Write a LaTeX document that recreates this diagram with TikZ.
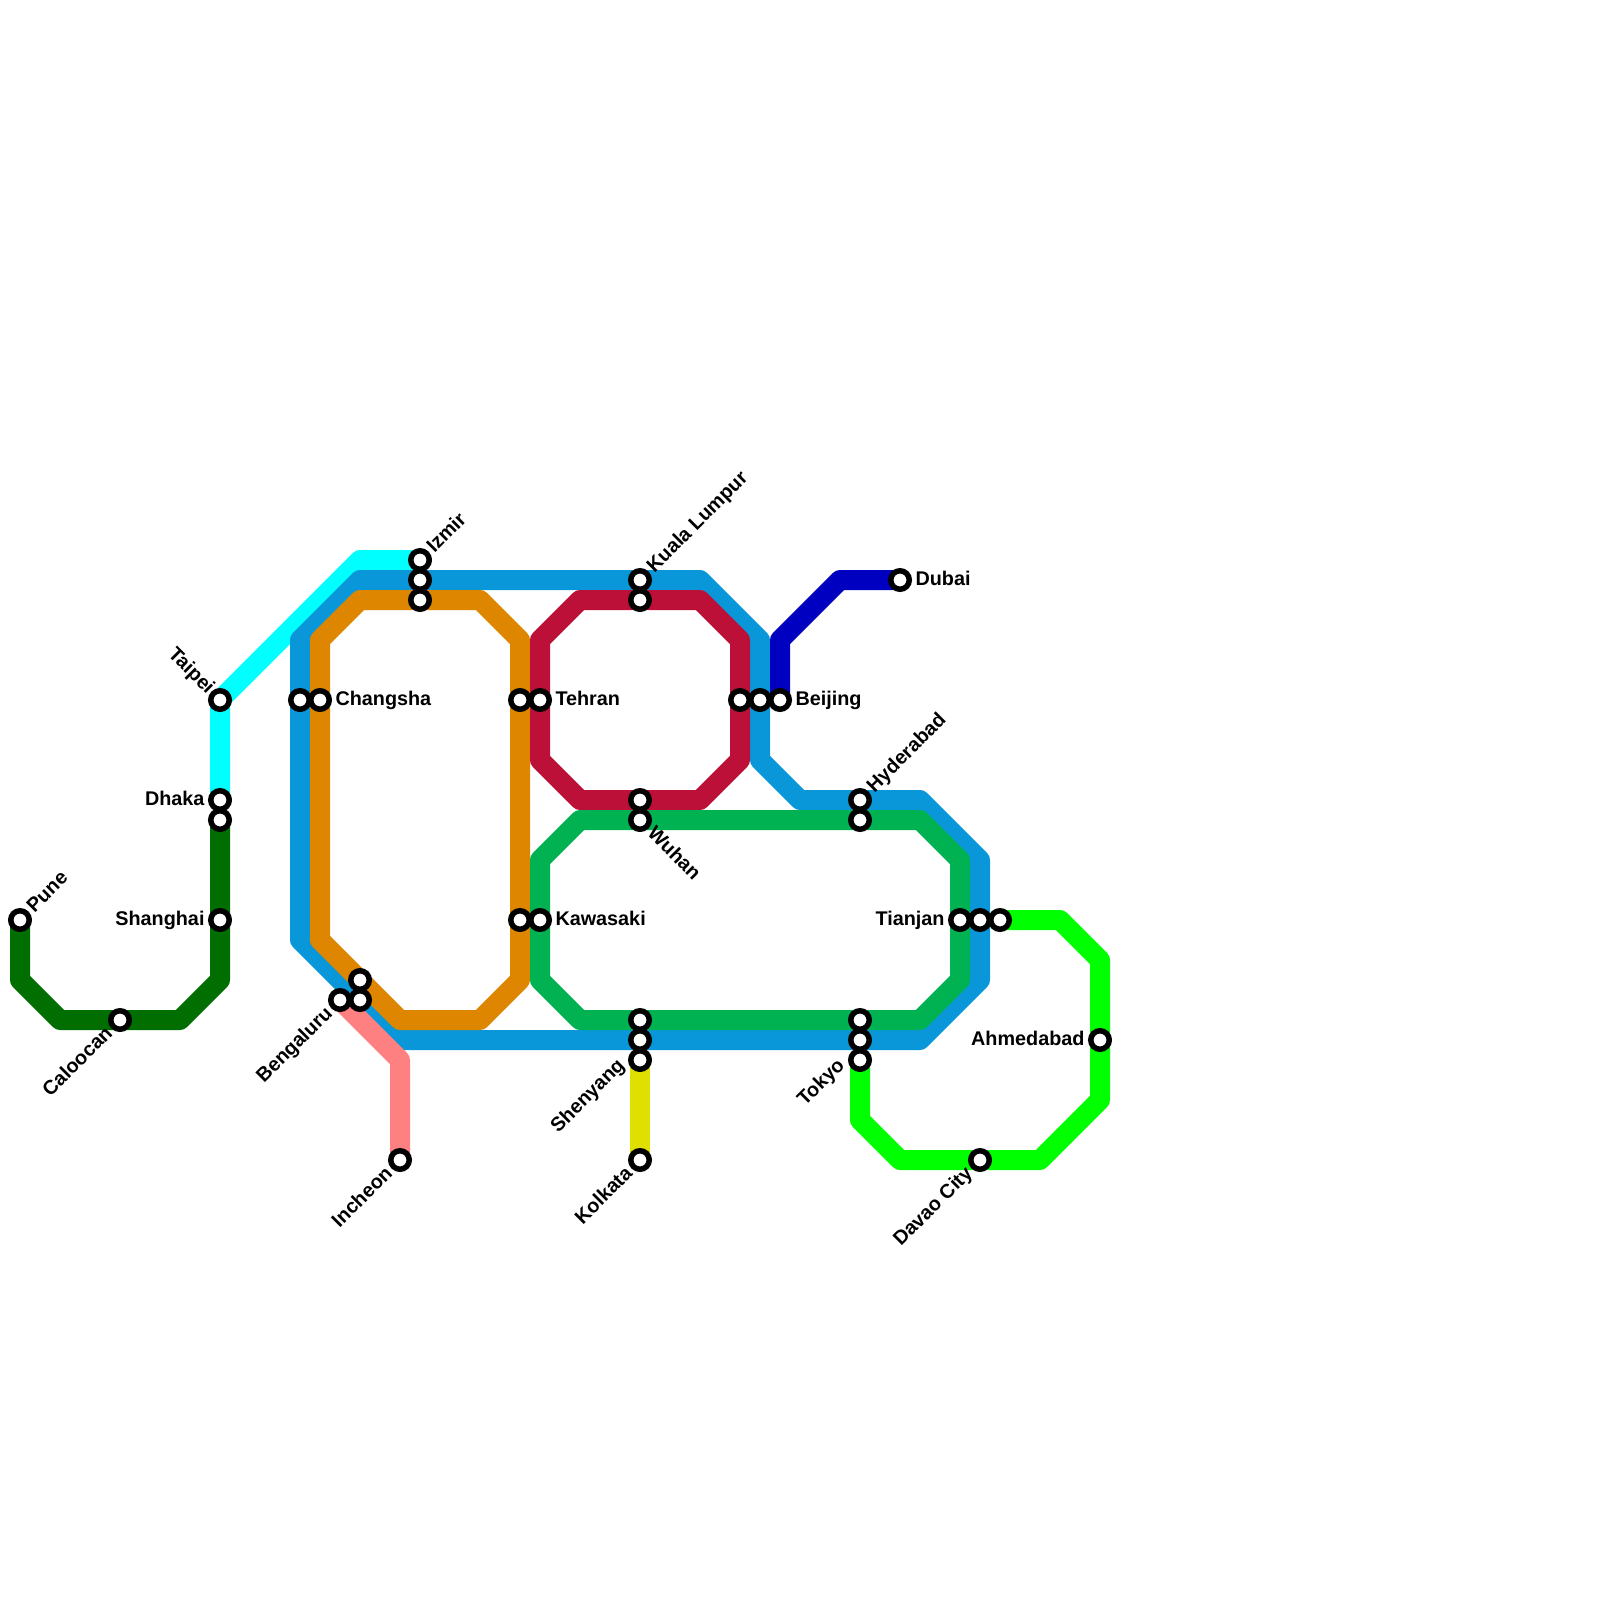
\documentclass[tikz,border=0pt]{standalone}
\usepackage{fontspec}
\setmainfont{Liberation Sans}
\usetikzlibrary{backgrounds}
\definecolor{cCyan}{HTML}{00FFFF}
\definecolor{cBlue}{HTML}{0A97D9}
\definecolor{cOrange}{HTML}{DF8600}
\definecolor{cRed}{HTML}{BD1038}
\definecolor{cGreen}{HTML}{00B251}
\definecolor{cDark}{HTML}{006E00}
\definecolor{cNavy}{HTML}{0000C0}
\definecolor{cPink}{HTML}{FF8080}
\definecolor{cYellow}{HTML}{E0E000}
\definecolor{cLime}{HTML}{00FF00}
\tikzset{
  stn/.style={circle,draw=black,fill=white,line width=5.5pt,minimum size=18.5pt,inner sep=0pt,outer sep=0pt},
  rail/.style={line width=20pt,line join=round,line cap=round},
  lbl/.style={font=\fontsize{19.8}{22}\bfseries\selectfont,text=black,inner sep=0pt,outer ysep=0pt},
  lblE/.style={lbl,anchor=mid west,outer xsep=15.5pt,yshift=-3pt},
  lblW/.style={lbl,anchor=mid east,outer xsep=15.5pt,yshift=-3pt},
  lblNE/.style={lbl,rotate=45,anchor=mid west,outer xsep=15pt,yshift=-3pt},
  lblSE/.style={lbl,rotate=-45,anchor=mid west,outer xsep=15pt,yshift=-3pt},
  lblSW/.style={lbl,rotate=45,anchor=mid east,outer xsep=15pt,yshift=-3pt},
  lblNW/.style={lbl,rotate=-45,anchor=mid east,outer xsep=13pt,yshift=-3pt},
}
\begin{document}
\begin{tikzpicture}[x=1pt,y=-1pt]
\useasboundingbox (0,0) rectangle (1600,1600);
% stations
\node[stn] (pune) at (20,920) {};
\node[stn] (caloocan) at (120,1020) {};
\node[stn] (taipei) at (220,700) {};
\node[stn] (dhaka) at (220,800) {};
\node[stn] (dhakab) at (220,820) {};
\node[stn] (shanghai) at (220,920) {};
\node[stn] (changshaa) at (300,700) {};
\node[stn] (changsha) at (320,700) {};
\node[stn] (izmir) at (420,560) {};
\node[stn] (izmirb) at (420,580) {};
\node[stn] (izmirc) at (420,600) {};
\node[stn] (beng) at (340,1000) {};
\node[stn] (bengb) at (360,980) {};
\node[stn] (bengc) at (360,1000) {};
\node[stn] (incheon) at (400,1160) {};
\node[stn] (tehrana) at (520,700) {};
\node[stn] (tehran) at (540,700) {};
\node[stn] (kawaa) at (520,920) {};
\node[stn] (kawa) at (540,920) {};
\node[stn] (kuala) at (640,580) {};
\node[stn] (kualab) at (640,600) {};
\node[stn] (wuhana) at (640,800) {};
\node[stn] (wuhan) at (640,820) {};
\node[stn] (sheny) at (640,1020) {};
\node[stn] (shenyb) at (640,1040) {};
\node[stn] (shenyc) at (640,1060) {};
\node[stn] (kolkata) at (640,1160) {};
\node[stn] (beija) at (740,700) {};
\node[stn] (beijb) at (760,700) {};
\node[stn] (beijing) at (780,700) {};
\node[stn] (dubai) at (900,580) {};
\node[stn] (hyder) at (860,800) {};
\node[stn] (hyderb) at (860,820) {};
\node[stn] (tokyoa) at (860,1020) {};
\node[stn] (tokyob) at (860,1040) {};
\node[stn] (tokyo) at (860,1060) {};
\node[stn] (tianjan) at (960,920) {};
\node[stn] (tianb) at (980,920) {};
\node[stn] (tianc) at (1000,920) {};
\node[stn] (ahmed) at (1100,1040) {};
\node[stn] (davao) at (980,1160) {};
% lines
\begin{scope}[on background layer]
\draw[rail,cCyan] (dhaka.center) -- (taipei.center) -- (360,560) -- (izmir.center);
\draw[rail,cBlue] (izmirb.center) -- (360,580) -- (300,640) -- (changshaa.center) -- (300,940) -- (bengc.center) -- (400,1040) -- (shenyb.center) -- (tokyob.center) -- (920,1040) -- (980,980) -- (tianb.center) -- (980,860) -- (920,800) -- (hyder.center) -- (800,800) -- (760,760) -- (beijb.center) -- (760,640) -- (700,580) -- (kuala.center) -- cycle;
\draw[rail,cOrange] (izmirc.center) -- (360,600) -- (320,640) -- (changsha.center) -- (320,940) -- (bengb.center) -- (400,1020) -- (480,1020) -- (520,980) -- (kawaa.center) -- (tehrana.center) -- (520,640) -- (480,600) -- cycle;
\draw[rail,cRed] (kualab.center) -- (580,600) -- (540,640) -- (tehran.center) -- (540,760) -- (580,800) -- (wuhana.center) -- (700,800) -- (740,760) -- (beija.center) -- (740,640) -- (700,600) -- cycle;
\draw[rail,cGreen] (wuhan.center) -- (580,820) -- (540,860) -- (kawa.center) -- (540,980) -- (580,1020) -- (sheny.center) -- (tokyoa.center) -- (920,1020) -- (960,980) -- (tianjan.center) -- (960,860) -- (920,820) -- (hyderb.center) -- cycle;
\draw[rail,cDark] (pune.center) -- (20,980) -- (60,1020) -- (caloocan.center) -- (180,1020) -- (220,980) -- (shanghai.center) -- (dhakab.center);
\draw[rail,cNavy] (beijing.center) -- (780,640) -- (840,580) -- (dubai.center);
\draw[rail,cPink] (beng.center) -- (400,1060) -- (incheon.center);
\draw[rail,cYellow] (shenyc.center) -- (kolkata.center);
\draw[rail,cLime] (tianc.center) -- (1060,920) -- (1100,960) -- (ahmed.center) -- (1100,1100) -- (1040,1160) -- (davao.center) -- (900,1160) -- (860,1120) -- (tokyo.center);
\end{scope}
% labels
\node[lblNE] (tpune) at (pune) {Pune};
\node[lblSW] (tcal) at (caloocan) {Caloocan};
\node[lblNW] (ttai) at (taipei) {Taipei};
\node[lblW] (tdha) at (dhaka) {Dhaka};
\node[lblW] (tsha) at (shanghai) {Shanghai};
\node[lblE] (tcha) at (changsha) {Changsha};
\node[lblNE] (tizm) at (izmir) {Izmir};
\node[lblSW] (tben) at (beng) {Bengaluru};
\node[lblSW] (tinc) at (incheon) {Incheon};
\node[lblE] (tteh) at (tehran) {Tehran};
\node[lblE] (tkaw) at (kawa) {Kawasaki};
\node[lblNE] (tkua) at (kuala) {Kuala Lumpur};
\node[lblSE] (twuh) at (wuhan) {Wuhan};
\node[lblSW] (tshe) at ([shift={(-8,-8)}]shenyc.center) {Shenyang};
\node[lblSW] (tkol) at (kolkata) {Kolkata};
\node[lblE] (tbei) at (beijing) {Beijing};
\node[lblE] (tdub) at (dubai) {Dubai};
\node[lblNE] (thyd) at (hyder) {Hyderabad};
\node[lblSW] (ttok) at ([shift={(-8,-8)}]tokyo.center) {Tokyo};
\node[lblW] (ttia) at (tianjan) {Tianjan};
\node[lblW] (tahm) at (ahmed) {Ahmedabad};
\node[lblSW] (tdav) at (davao) {Davao City};
\end{tikzpicture}
\end{document}
